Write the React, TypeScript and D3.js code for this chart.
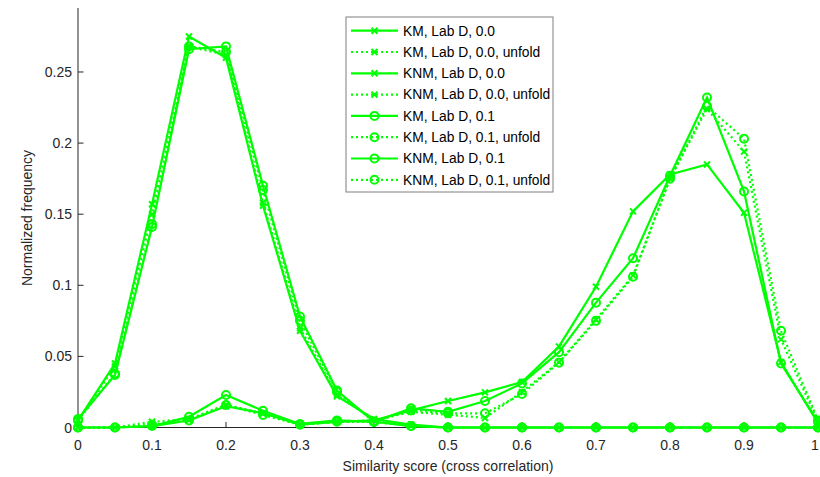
import React from "react";
import * as d3 from "d3";

const xValues = [0, 0.05, 0.1, 0.15, 0.2, 0.25, 0.3, 0.35, 0.4, 0.45, 0.5, 0.55, 0.6, 0.65, 0.7, 0.75, 0.8, 0.85, 0.9, 0.95, 1];

const kmLabD00 = [0.005, 0.045, 0.157, 0.275, 0.26, 0.156, 0.068, 0.022, 0.006, 0.002, 0, 0, 0, 0, 0, 0, 0, 0, 0, 0, 0];
const kmLabD00Unfold = [0.005, 0.043, 0.15, 0.268, 0.262, 0.158, 0.07, 0.023, 0.005, 0.001, 0, 0, 0, 0, 0, 0, 0, 0, 0, 0, 0];
const knmLabD00 = [0, 0, 0.001, 0.005, 0.015, 0.01, 0.002, 0.004, 0.005, 0.012, 0.0186, 0.0247, 0.032, 0.057, 0.099, 0.152, 0.178, 0.185, 0.151, 0.046, 0.003];
const knmLabD00Unfold = [0, 0, 0.004, 0.006, 0.016, 0.01, 0.002, 0.004, 0.005, 0.011, 0.009, 0.0067, 0.025, 0.046, 0.076, 0.107, 0.175, 0.224, 0.194, 0.062, 0.004];
const kmLabD01 = [0.006, 0.037, 0.141, 0.266, 0.268, 0.17, 0.078, 0.026, 0.004, 0.001, 0, 0, 0, 0, 0, 0, 0, 0, 0, 0, 0];
const kmLabD01Unfold = [0.005, 0.038, 0.143, 0.268, 0.264, 0.167, 0.075, 0.025, 0.004, 0.001, 0, 0, 0, 0, 0, 0, 0, 0, 0, 0, 0];
const knmLabD01 = [0, 0, 0.001, 0.0076, 0.0229, 0.0118, 0.0025, 0.005, 0.004, 0.0135, 0.011, 0.0186, 0.031, 0.053, 0.0878, 0.119, 0.177, 0.232, 0.166, 0.045, 0.004];
const knmLabD01Unfold = [0, 0, 0.002, 0.005, 0.0158, 0.0088, 0.002, 0.004, 0.004, 0.012, 0.01, 0.01, 0.0235, 0.0456, 0.075, 0.106, 0.175, 0.226, 0.203, 0.068, 0.005];

const seriesNames = [
  "KM, Lab D, 0.0",
  "KM, Lab D, 0.0, unfold",
  "KNM, Lab D, 0.0",
  "KNM, Lab D, 0.0, unfold",
  "KM, Lab D, 0.1",
  "KM, Lab D, 0.1, unfold",
  "KNM, Lab D, 0.1",
  "KNM, Lab D, 0.1, unfold",
];
const seriesValues = [kmLabD00, kmLabD00Unfold, knmLabD00, knmLabD00Unfold, kmLabD01, kmLabD01Unfold, knmLabD01, knmLabD01Unfold];
const seriesMarkers = ["x", "x", "x", "x", "o", "o", "o", "o"];
const seriesDotted = [false, true, false, true, false, true, false, true];

const xTicks = [0, 0.1, 0.2, 0.3, 0.4, 0.5, 0.6, 0.7, 0.8, 0.9, 1];
const xTickLabels = ["0", "0.1", "0.2", "0.3", "0.4", "0.5", "0.6", "0.7", "0.8", "0.9", "1"];
const yTicks = [0, 0.05, 0.1, 0.15, 0.2, 0.25];
const yTickLabels = ["0", "0.05", "0.1", "0.15", "0.2", "0.25"];

const GREEN = "#00ff00";
const AXIS = "#262626";
const FONT = "Arial, 'Liberation Sans', sans-serif";

function Marker({ type, x, y }: { type: string; x: number; y: number }) {
  if (type === "o") {
    return <circle cx={x} cy={y} r={4} fill="none" stroke={GREEN} strokeWidth={2} />;
  }
  const s = 3;
  return (
    <path
      d={`M${x - s},${y - s}L${x + s},${y + s}M${x - s},${y + s}L${x + s},${y - s}`}
      stroke={GREEN}
      strokeWidth={2}
      fill="none"
    />
  );
}

export default function App() {
  const width = 820;
  const height = 477;
  const x = d3.scaleLinear().domain([0, 1]).range([78, 818]);
  const y = d3.scaleLinear().domain([0, 0.295]).range([427.5, 8]);
  const line = d3
    .line<number>()
    .x((_, i) => x(xValues[i]))
    .y((d) => y(d));

  const legendX = 346;
  const legendY = 17;
  const legendW = 207;
  const legendH = 175;
  const rowH = 21.3;

  return (
    <svg
      width={width}
      height={height}
      style={{ position: "absolute", left: 0, top: 0, background: "#fff" }}
      fontFamily={FONT}
    >
      <rect x={0} y={0} width={width} height={height} fill="#fff" />
      {/* axes */}
      <line x1={78} x2={78} y1={8} y2={427.5} stroke={AXIS} strokeWidth={1} />
      <line x1={78} x2={819} y1={427.5} y2={427.5} stroke={AXIS} strokeWidth={1} />
      {xTicks.map((t, i) => (
        <g key={"xt" + i}>
          <line x1={x(t)} x2={x(t)} y1={427.5} y2={422} stroke={AXIS} />
          <text x={Math.min(x(t), 815)} y={450} textAnchor="middle" fontSize={14} fill={AXIS}>
            {xTickLabels[i]}
          </text>
        </g>
      ))}
      {yTicks.map((t, i) => (
        <g key={"yt" + i}>
          <line x1={78} x2={83.5} y1={y(t)} y2={y(t)} stroke={AXIS} />
          <text x={72} y={y(t) + 5} textAnchor="end" fontSize={14} fill={AXIS}>
            {yTickLabels[i]}
          </text>
        </g>
      ))}
      <text x={448} y={471} textAnchor="middle" fontSize={14} fill={AXIS}>
        Similarity score (cross correlation)
      </text>
      <text
        transform={`translate(32,218) rotate(-90)`}
        textAnchor="middle"
        fontSize={14}
        fill={AXIS}
      >
        Normalized frequency
      </text>

      {/* series */}
      {seriesValues.map((vals, si) => (
        <g key={"s" + si}>
          <path
            d={line(vals) || ""}
            fill="none"
            stroke={GREEN}
            strokeWidth={2.2}
            strokeDasharray={seriesDotted[si] ? "2,3" : undefined}
          />
          {vals.map((v, i) => (
            <Marker key={i} type={seriesMarkers[si]} x={x(xValues[i])} y={y(v)} />
          ))}
        </g>
      ))}

      {/* legend */}
      <rect x={legendX} y={legendY} width={legendW} height={legendH} fill="#fff" stroke="#7f7f7f" strokeWidth={1} />
      {seriesNames.map((name, i) => {
        const cy = legendY + 13.7 + i * rowH;
        return (
          <g key={"lg" + i}>
            <line
              x1={351}
              x2={398}
              y1={cy}
              y2={cy}
              stroke={GREEN}
              strokeWidth={2.2}
              strokeDasharray={seriesDotted[i] ? "2,3" : undefined}
            />
            <Marker type={seriesMarkers[i]} x={374.5} y={cy} />
            <text x={403} y={cy + 4.8} fontSize={13.8} fill="#000">
              {name}
            </text>
          </g>
        );
      })}
    </svg>
  );
}
